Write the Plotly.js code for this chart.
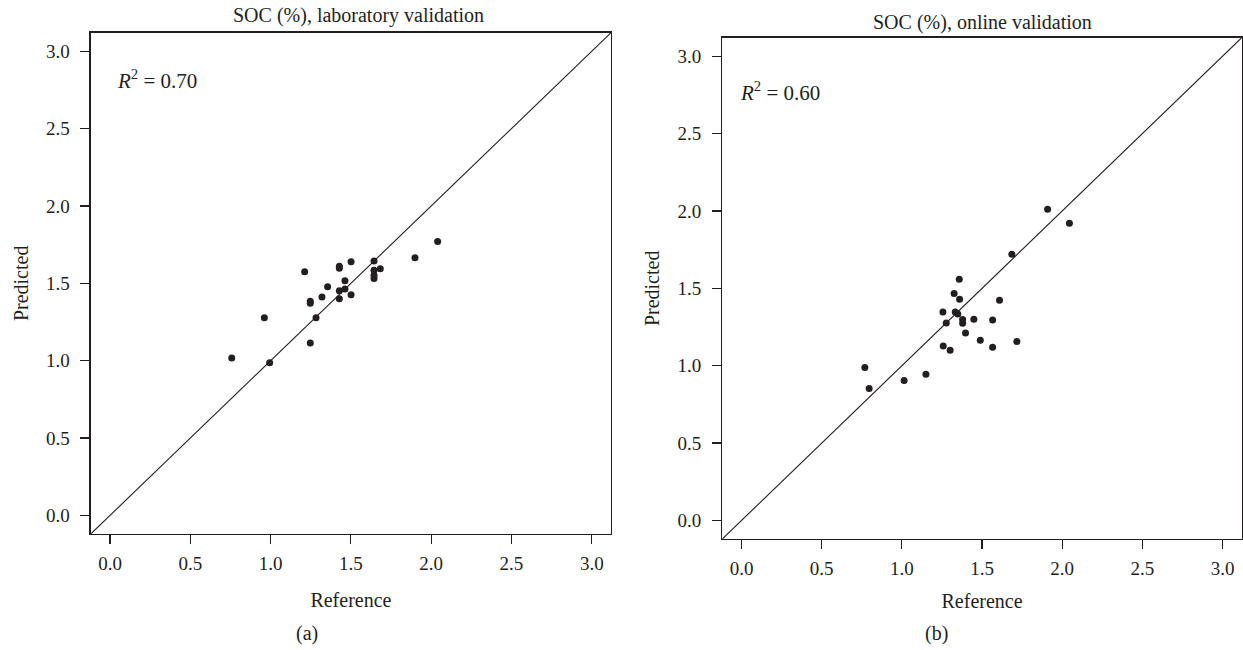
<!DOCTYPE html>
<html>
<head>
<meta charset="utf-8">
<script src="https://cdn.plot.ly/plotly-3.0.1.min.js"></script>
<style>
  html, body { margin: 0; padding: 0; background: #ffffff; }
  #chart { width: 1243px; height: 650px; }
</style>
</head>
<body>
<div id="chart"></div>
<script>
// ---- Data ----
const labRef  = [0.758, 0.961, 0.994, 1.212, 1.247, 1.247, 1.247, 1.283, 1.320, 1.355, 1.428, 1.428, 1.428, 1.428, 1.463, 1.463, 1.501, 1.501, 1.644, 1.644, 1.683, 1.644, 1.644, 1.899, 2.040];
const labPred = [1.017, 1.278, 0.987, 1.575, 1.385, 1.372, 1.114, 1.278, 1.412, 1.478, 1.610, 1.597, 1.452, 1.401, 1.517, 1.463, 1.640, 1.427, 1.644, 1.584, 1.595, 1.552, 1.532, 1.666, 1.771];

const onRef  = [0.769, 0.796, 1.014, 1.150, 1.258, 1.301, 1.256, 1.277, 1.326, 1.358, 1.360, 1.333, 1.349, 1.379, 1.379, 1.397, 1.449, 1.489, 1.566, 1.566, 1.609, 1.717, 1.686, 1.909, 2.045];
const onPred = [0.988, 0.852, 0.904, 0.945, 1.128, 1.100, 1.347, 1.276, 1.466, 1.558, 1.429, 1.347, 1.334, 1.298, 1.274, 1.212, 1.300, 1.165, 1.296, 1.119, 1.423, 1.156, 1.720, 2.012, 1.920];

const axisRange = [-0.12, 3.12];
const tickValues = [0, 0.5, 1.0, 1.5, 2.0, 2.5, 3.0];
const tickLabels = ["0.0", "0.5", "1.0", "1.5", "2.0", "2.5", "3.0"];

const panelTitles = ["SOC (%), laboratory validation", "SOC (%), online validation"];
const panelTags = ["(a)", "(b)"];
const r2Texts = ["<i>R</i><sup>2</sup> = 0.70", "<i>R</i><sup>2</sup> = 0.60"];
const xTitle = "Reference";
const yTitle = "Predicted";

// ---- Styling ----
const INK = "#231f20";
const FONT = "Liberation Serif, Times New Roman, serif";

function axis(domain, anchor, labelGap) {
  return {
    domain: domain,
    anchor: anchor,
    range: axisRange,
    tickmode: "array",
    tickvals: tickValues,
    ticktext: tickLabels,
    showgrid: false,
    zeroline: false,
    showline: true,
    mirror: true,
    linecolor: INK,
    linewidth: 1.3,
    ticks: "outside",
    ticklen: 9,
    tickwidth: 1.2,
    tickcolor: INK,
    ticklabelstandoff: labelGap,
    tickfont: { family: FONT, size: 19, color: INK },
    fixedrange: true
  };
}

const titleFont = { family: FONT, size: 20, color: INK };

const xa1 = axis([0.0730, 0.4916], "y", 3);
xa1.title = { text: xTitle, font: titleFont, standoff: 20 };
const ya1 = axis([0.1785, 0.9497], "x", 7);
ya1.title = { text: yTitle, font: titleFont, standoff: 12 };

const xa2 = axis([0.5811, 0.9990], "y2", 3);
xa2.title = { text: xTitle, font: titleFont, standoff: 16 };
const ya2 = axis([0.1708, 0.9420], "x2", 7);
ya2.title = { text: yTitle, font: titleFont, standoff: 12 };

const marker = { color: INK, size: 7, line: { width: 0 } };

const traces = [
  { type: "scatter", mode: "lines", x: axisRange, y: axisRange, xaxis: "x", yaxis: "y",
    line: { color: INK, width: 1.1 }, hoverinfo: "skip", showlegend: false },
  { type: "scatter", mode: "markers", x: labRef, y: labPred, xaxis: "x", yaxis: "y",
    marker: marker, name: "Laboratory", showlegend: false },
  { type: "scatter", mode: "lines", x: axisRange, y: axisRange, xaxis: "x2", yaxis: "y2",
    line: { color: INK, width: 1.1 }, hoverinfo: "skip", showlegend: false },
  { type: "scatter", mode: "markers", x: onRef, y: onPred, xaxis: "x2", yaxis: "y2",
    marker: marker, name: "Online", showlegend: false }
];

const annFont = { family: FONT, size: 20, color: INK };
const annotations = [
  { text: panelTitles[0], xref: "paper", yref: "paper", x: 358 / 1243, y: 1 - 15 / 650,
    xanchor: "center", yanchor: "middle", showarrow: false, font: annFont },
  { text: panelTitles[1], xref: "paper", yref: "paper", x: 982 / 1243, y: 1 - 23 / 650,
    xanchor: "center", yanchor: "middle", showarrow: false, font: annFont },
  { text: r2Texts[0], xref: "x", yref: "y", x: 0.03, y: 2.82,
    xanchor: "left", yanchor: "middle", showarrow: false, font: { family: FONT, size: 21, color: INK } },
  { text: r2Texts[1], xref: "x2", yref: "y2", x: -0.02, y: 2.77,
    xanchor: "left", yanchor: "middle", showarrow: false, font: { family: FONT, size: 21, color: INK } },
  { text: panelTags[0], xref: "paper", yref: "paper", x: 307 / 1243, y: 1 - 633 / 650,
    xanchor: "center", yanchor: "middle", showarrow: false, font: annFont },
  { text: panelTags[1], xref: "paper", yref: "paper", x: 937 / 1243, y: 1 - 633 / 650,
    xanchor: "center", yanchor: "middle", showarrow: false, font: annFont }
];

const layout = {
  width: 1243,
  height: 650,
  margin: { l: 0, r: 0, t: 0, b: 0, pad: 0 },
  paper_bgcolor: "#ffffff",
  plot_bgcolor: "#ffffff",
  showlegend: false,
  xaxis: xa1, yaxis: ya1,
  xaxis2: xa2, yaxis2: ya2,
  annotations: annotations,
  font: { family: FONT, color: INK }
};

Plotly.newPlot("chart", traces, layout, { displayModeBar: false, staticPlot: true });
</script>
</body>
</html>
